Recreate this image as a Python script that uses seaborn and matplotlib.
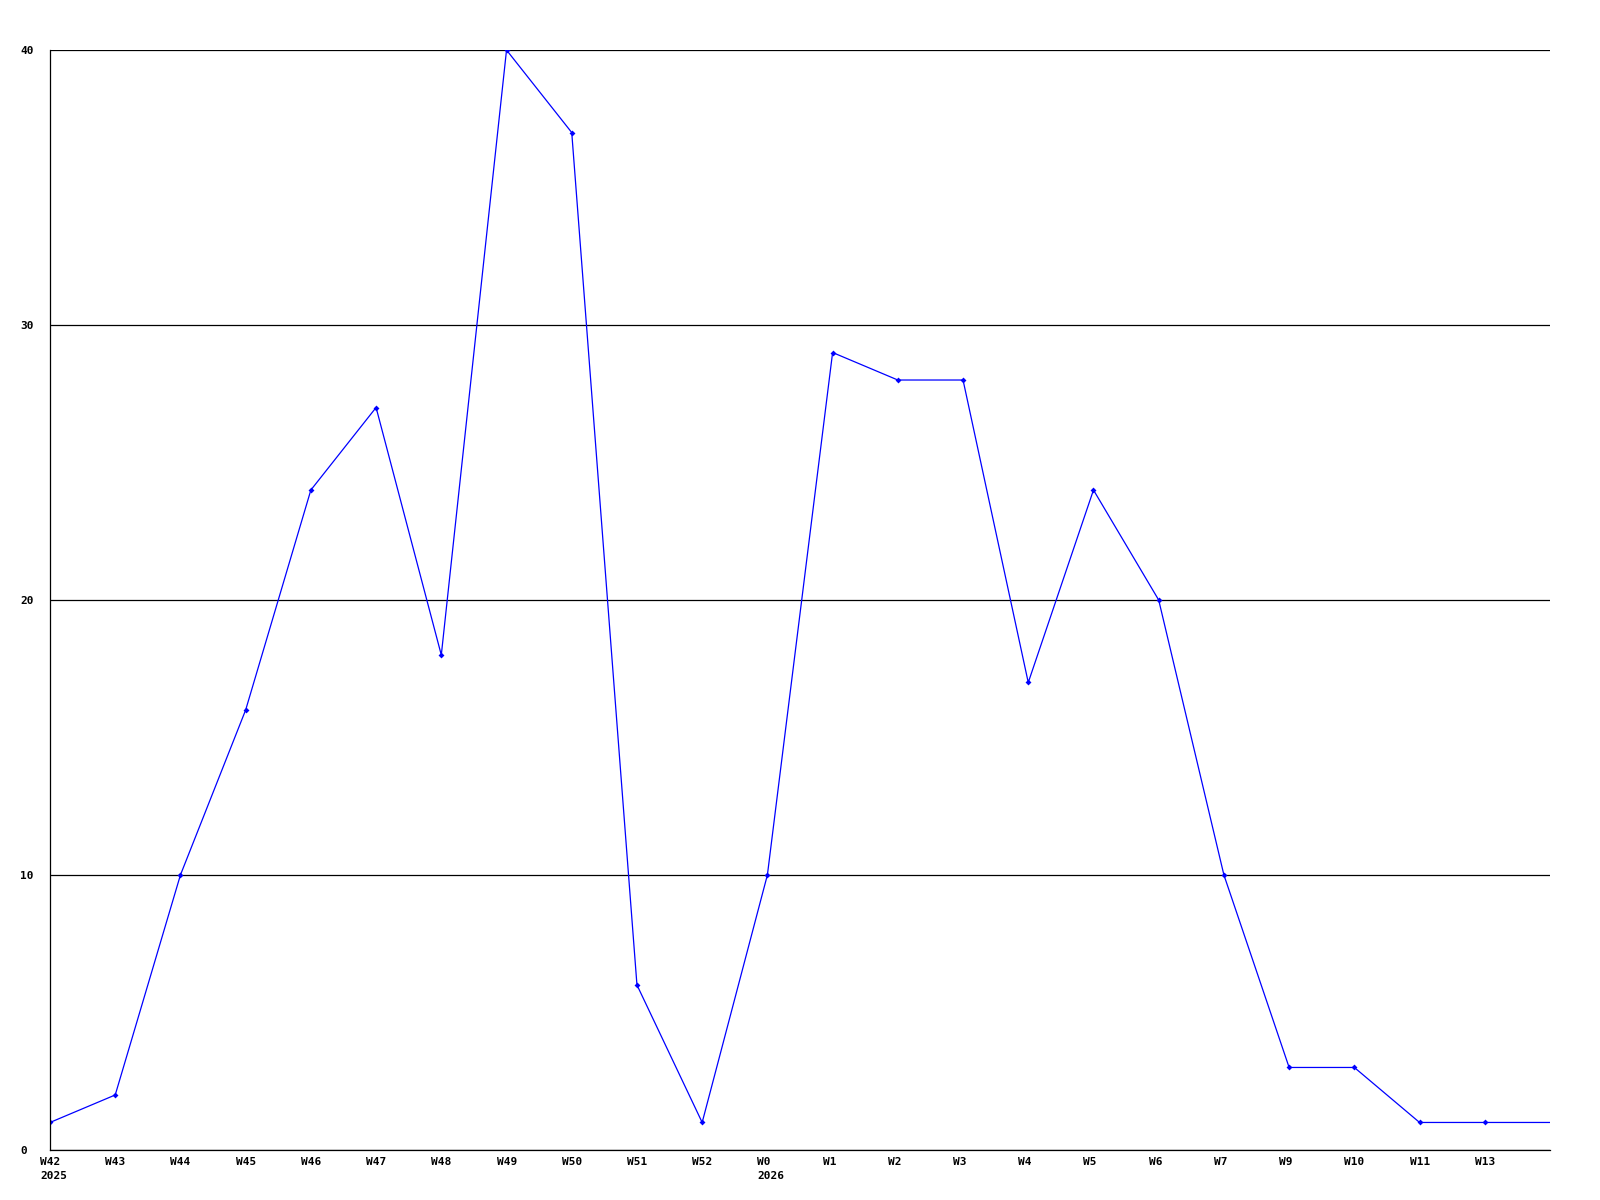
import pandas as pd
import matplotlib.pyplot as plt
import matplotlib.transforms as mtransforms
import seaborn as sns

# weekly counts (the last value only carries the line to the right edge)
weeks = ["W42", "W43", "W44", "W45", "W46", "W47", "W48", "W49", "W50", "W51", "W52",
         "W0", "W1", "W2", "W3", "W4", "W5", "W6", "W7", "W9", "W10", "W11", "W13"]
years = {"W42": "2025", "W0": "2026"}
counts = [1, 2, 10, 16, 24, 27, 18, 40, 37, 6, 1,
          10, 29, 28, 28, 17, 24, 20, 10, 3, 3, 1, 1]
tail_value = 1
y_ticks = [0, 10, 20, 30, 40]

df = pd.DataFrame({"pos": range(len(counts) + 1), "count": counts + [tail_value]})

sns.set_theme(style="white")
plt.rcParams["font.family"] = ["DejaVu Sans Mono", "DejaVu Sans"]

fig = plt.figure(figsize=(16, 12), dpi=100)
ax = fig.add_axes([0.03125, 0.0417, 0.9375, 0.9166])

sns.lineplot(data=df, x="pos", y="count", ax=ax, color="#0000ff", linewidth=0.9,
             marker="D", markersize=3, markeredgewidth=0,
             markevery=list(range(len(counts))))

ax.set_xlim(0, len(counts))
ax.set_ylim(0, 40)
ax.set_yticks(y_ticks)
ax.set_yticklabels([str(v) for v in y_ticks], fontsize=8, fontweight="bold", ha="left")
ax.set_xticks(range(len(weeks)))
ax.set_xticklabels([w + ("\n" + years[w] if w in years else "") for w in weeks],
                   fontsize=8, fontweight="bold", ha="left", linespacing=1.5)
ax.tick_params(axis="y", length=0, pad=21.5, labelcolor="black")
ax.tick_params(axis="x", length=0, pad=5, labelcolor="black")

# shift x labels so they start a little left of the tick
shift = mtransforms.ScaledTranslation(-10 / 100, 0, fig.dpi_scale_trans)
for lbl in ax.get_xticklabels():
    lbl.set_transform(lbl.get_transform() + shift)

ax.set_xlabel("")
ax.set_ylabel("")
ax.grid(axis="y", color="black", linewidth=0.9)
ax.grid(axis="x", visible=False)
for side in ["top", "right"]:
    ax.spines[side].set_visible(False)
for side in ["left", "bottom"]:
    ax.spines[side].set_color("black")
    ax.spines[side].set_linewidth(0.9)

fig.savefig("out.png", dpi=100, facecolor="white")
